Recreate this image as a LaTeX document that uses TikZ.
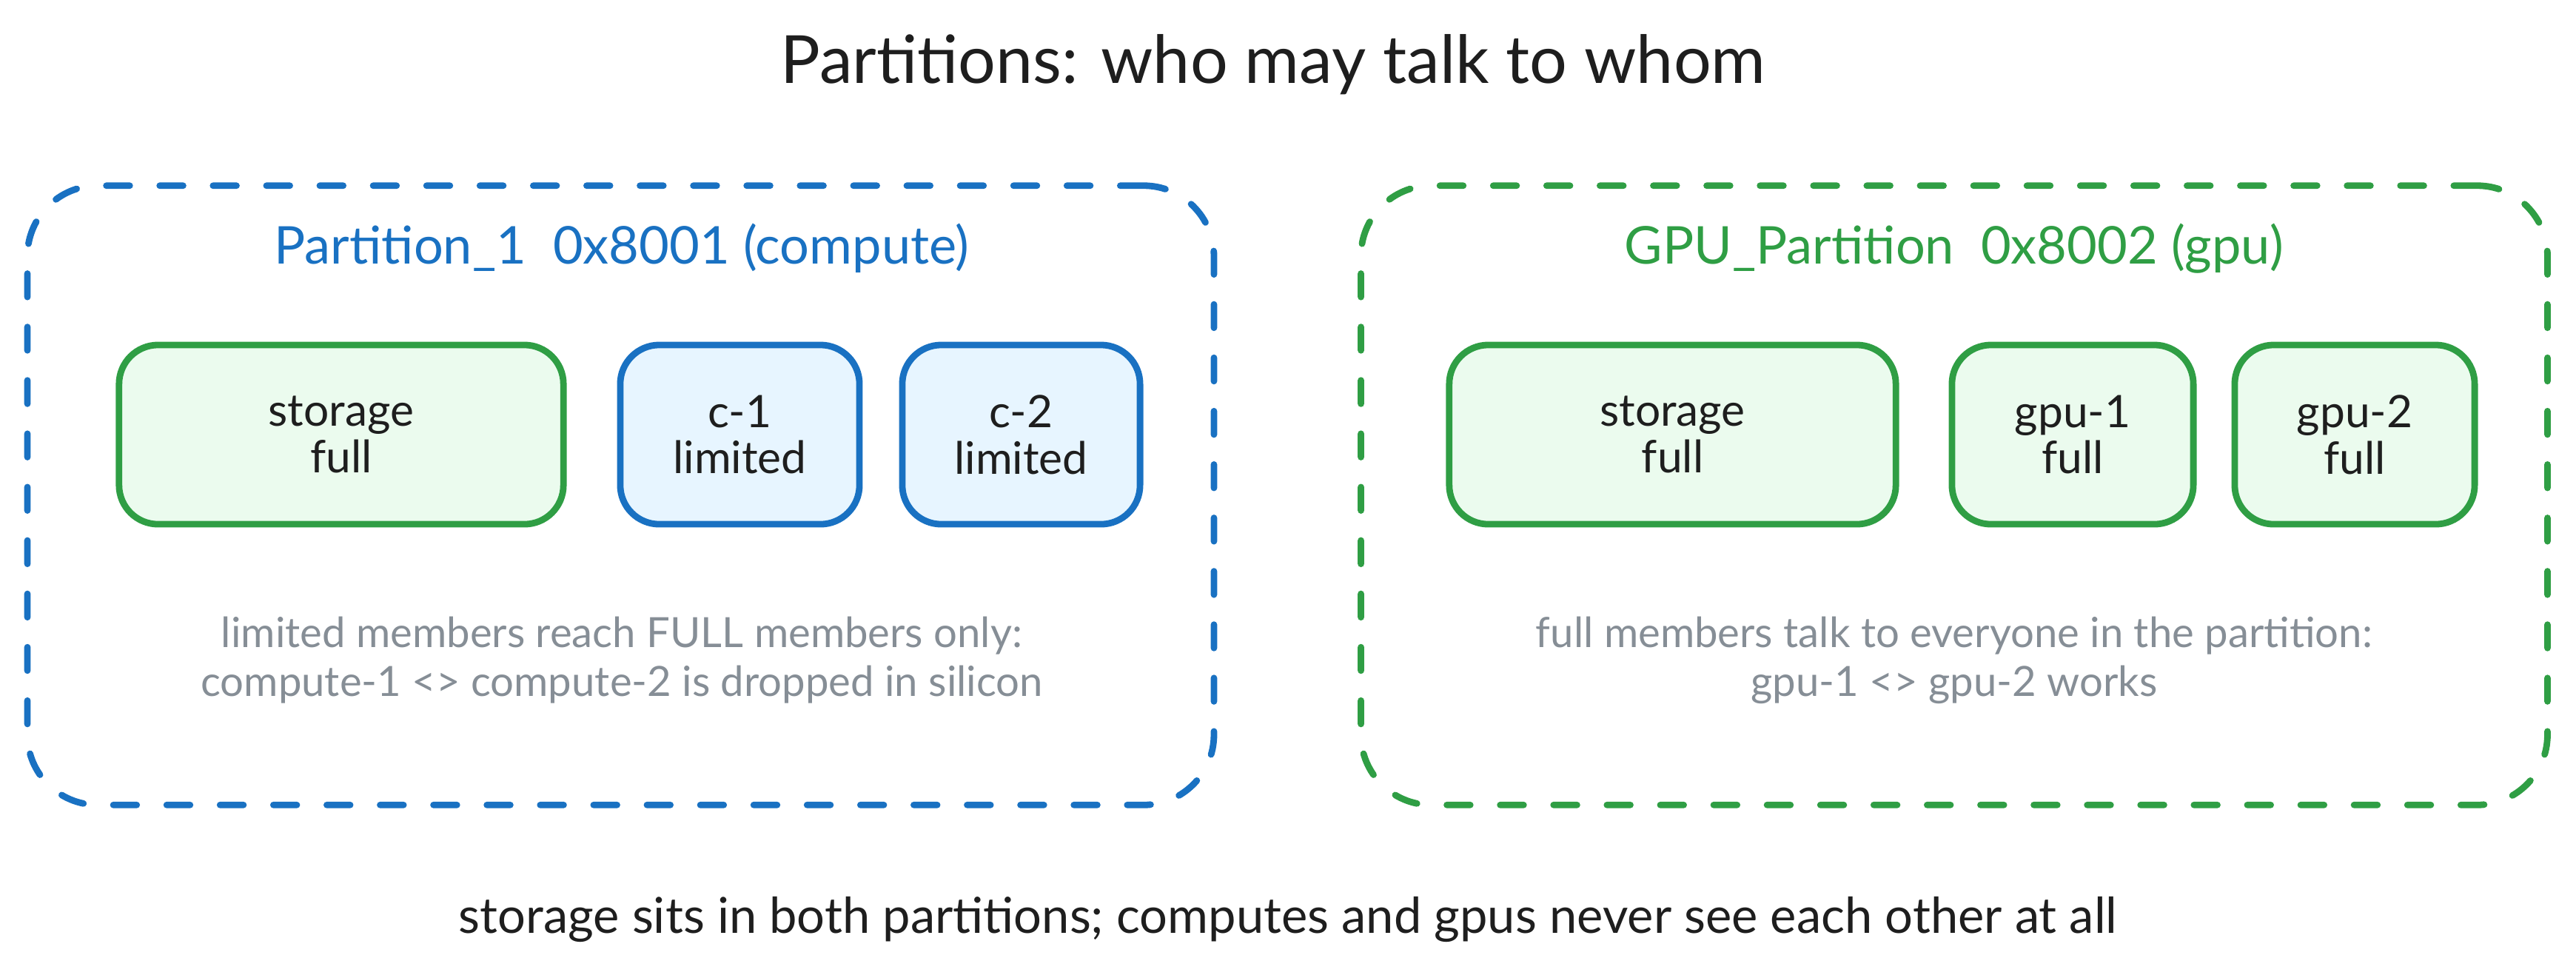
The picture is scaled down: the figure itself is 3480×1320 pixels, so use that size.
\documentclass[tikz,border=0pt]{standalone}
\usepackage{fontspec}
\setmainfont{Lato}
\definecolor{pblue}{HTML}{1971C2}
\definecolor{pgreen}{HTML}{2F9E44}
\definecolor{fillgreen}{HTML}{EBFBEE}
\definecolor{fillblue}{HTML}{E7F5FF}
\definecolor{capgray}{HTML}{868E96}
\definecolor{ink}{HTML}{1E1E1E}
\newcommand\mytitlefont{\fontsize{25.5}{30}\selectfont}
\newcommand\myptitlefont{\fontsize{20}{24}\selectfont}
\newcommand\mymembfont{\fontsize{17.2}{17.9}\selectfont}
\newcommand\mycapfont{\fontsize{16}{19}\selectfont}
\newcommand\myfootfont{\fontsize{19}{23}\selectfont}
\tikzset{
  partbox/.style={draw, line width=2.5pt, dash pattern=on 9pt off 11.5pt,
    line cap=round, rounded corners=27pt, inner sep=0pt,
    minimum width=16.02cm, minimum height=8.36cm},
  member/.style={draw, line width=2.5pt, rounded corners=15pt, inner sep=0pt,
    minimum height=2.42cm, align=center, font=\mymembfont, text=ink},
  fullm/.style={member, draw=pgreen, fill=fillgreen},
  limm/.style={member, draw=pblue, fill=fillblue},
  ptitle/.style={anchor=base, font=\myptitlefont, inner sep=0pt},
  caption/.style={anchor=base, font=\mycapfont, text=capgray, inner sep=0pt},
  headline/.style={anchor=base, font=\mytitlefont, text=ink, inner sep=0pt},
  footline/.style={anchor=base, font=\myfootfont, text=ink, inner sep=0pt}
}
\begin{document}
\begin{tikzpicture}[x=0.01cm, y=-0.01cm]
\useasboundingbox (0,0) rectangle (3480,1320);
% title
\node[headline] (title) at (1720,112) {Partitions: who may talk to whom};
% partition boxes
\node[partbox, draw=pblue] (p1) at (838.5,669) {};
\node[partbox, draw=pgreen] (p2) at (2640,669) {};
% partition titles
\node[ptitle, text=pblue] (p1t) at (840,356) {Partition\_1\ \ 0x8001 (compute)};
\node[ptitle, text=pgreen] (p2t) at (2640,356) {GPU\_Partition\ \ 0x8002 (gpu)};
% members partition 1
\node[fullm, minimum width=6.00cm] (s1) at (461,587) {storage\\full};
\node[limm, minimum width=3.23cm] (c1) at (999.5,587) {c-1\\limited};
\node[limm, minimum width=3.21cm] (c2) at (1379.5,587) {c-2\\limited};
% members partition 2
\node[fullm, minimum width=6.03cm] (s2) at (2259.5,587) {storage\\full};
\node[fullm, minimum width=3.26cm] (g1) at (2800,587) {gpu-1\\full};
\node[fullm, minimum width=3.24cm] (g2) at (3181,587) {gpu-2\\full};
% captions
\node[caption] (cap1a) at (840,874) {limited members reach FULL members only:};
\node[caption] (cap1b) at (840,940) {compute-1 <> compute-2 is dropped in silicon};
\node[caption] (cap2a) at (2640,874) {full members talk to everyone in the partition:};
\node[caption] (cap2b) at (2640,940) {gpu-1 <> gpu-2 works};
% footer
\node[footline] (foot) at (1740,1260) {storage sits in both partitions; computes and gpus never see each other at all};
\end{tikzpicture}
\end{document}
